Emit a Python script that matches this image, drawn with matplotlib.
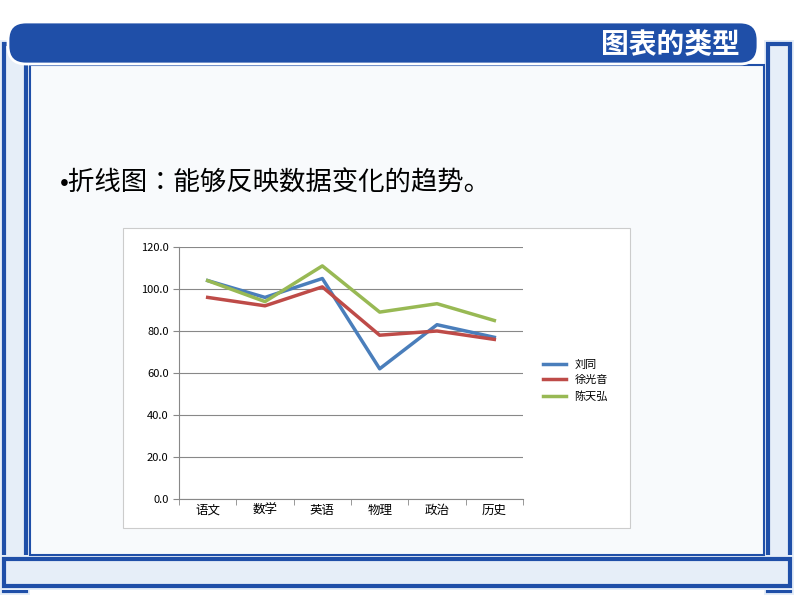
import matplotlib
matplotlib.use("Agg")
import matplotlib.pyplot as plt
from matplotlib import font_manager as fm
from matplotlib.patches import Rectangle, FancyBboxPatch

categories = ["语文", "数学", "英语", "物理", "政治", "历史"]
liu_tong = [104, 96, 105, 62, 83, 77]
xu_guangyin = [96, 92, 101, 78, 80, 76]
chen_tianhong = [104, 94, 111, 89, 93, 85]
series_names = ["刘同", "徐光音", "陈天弘"]
yticks = [0, 20, 40, 60, 80, 100, 120]

cjk = [f for f in fm.fontManager.ttflist if "CJK" in f.name or "CJK" in f.fname]
names = sorted(set(f.name for f in cjk))
pick = next((n for n in names if "SC" in n), names[0] if names else "DejaVu Sans")
plt.rcParams["font.family"] = [pick, "DejaVu Sans"]

W, H = 794, 596
fig = plt.figure(figsize=(W/100, H/100), dpi=100)
fig.patch.set_facecolor("white")
bg = fig.add_axes([0, 0, 1, 1]); bg.set_xlim(0, W); bg.set_ylim(H, 0); bg.axis("off")

blue = "#1f4fa8"
for (x, y, w, h) in [(0, 40, 30, 555), (764, 40, 30, 555), (0, 555, 794, 35)]:
    bg.add_patch(Rectangle((x, y), w, h, fc="#e6eef8", ec="none"))
    bg.add_patch(Rectangle((x+4, y+4), w-8, h-8, fc="none", ec=blue, lw=3))
bg.add_patch(Rectangle((30, 65), 734, 490, fc="#f8fafc", ec=blue, lw=1.5))
bg.add_patch(FancyBboxPatch((8, 22), 750, 42, boxstyle="round,pad=0,rounding_size=18", fc=blue, ec="white", lw=2))
bg.text(740, 44, "图表的类型", color="white", fontsize=20, fontweight="bold", ha="right", va="center")
bg.text(60, 183, "•折线图：能够反映数据变化的趋势。", fontsize=19, va="center", color="black")
bg.add_patch(Rectangle((123, 228), 507, 300, fc="white", ec="#cccccc", lw=0.8))

ax = fig.add_axes([179/W, 1-499/H, 344/W, 252/H])
x = range(len(categories))
colors = ["#4a7ebb", "#be4b48", "#98b954"]
for vals, name, c in zip([liu_tong, xu_guangyin, chen_tianhong], series_names, colors):
    ax.plot(x, vals, color=c, lw=2.5, label=name)
ax.set_ylim(0, 120)
ax.set_xlim(-0.5, len(categories)-0.5)
ax.set_yticks(yticks)
ax.set_yticklabels([f"{v:.1f}" for v in yticks], fontsize=8)
ax.set_xticks(list(x))
ax.set_xticklabels(categories, fontsize=9)
ax.set_xticks([i-0.5 for i in range(len(categories)+1)], minor=True)
ax.tick_params(axis="x", which="major", length=0)
ax.tick_params(axis="x", which="minor", length=4, color="#888888")
ax.tick_params(axis="y", length=4, color="#888888")
ax.grid(axis="y", color="#888888", lw=0.8)
for s in ["top", "right"]:
    ax.spines[s].set_visible(False)
for s in ["left", "bottom"]:
    ax.spines[s].set_color("#888888")
ax.legend(loc="center left", bbox_to_anchor=(1.03, 0.47), frameon=False, fontsize=8, handlelength=2)
fig.savefig("out.png", dpi=100)
